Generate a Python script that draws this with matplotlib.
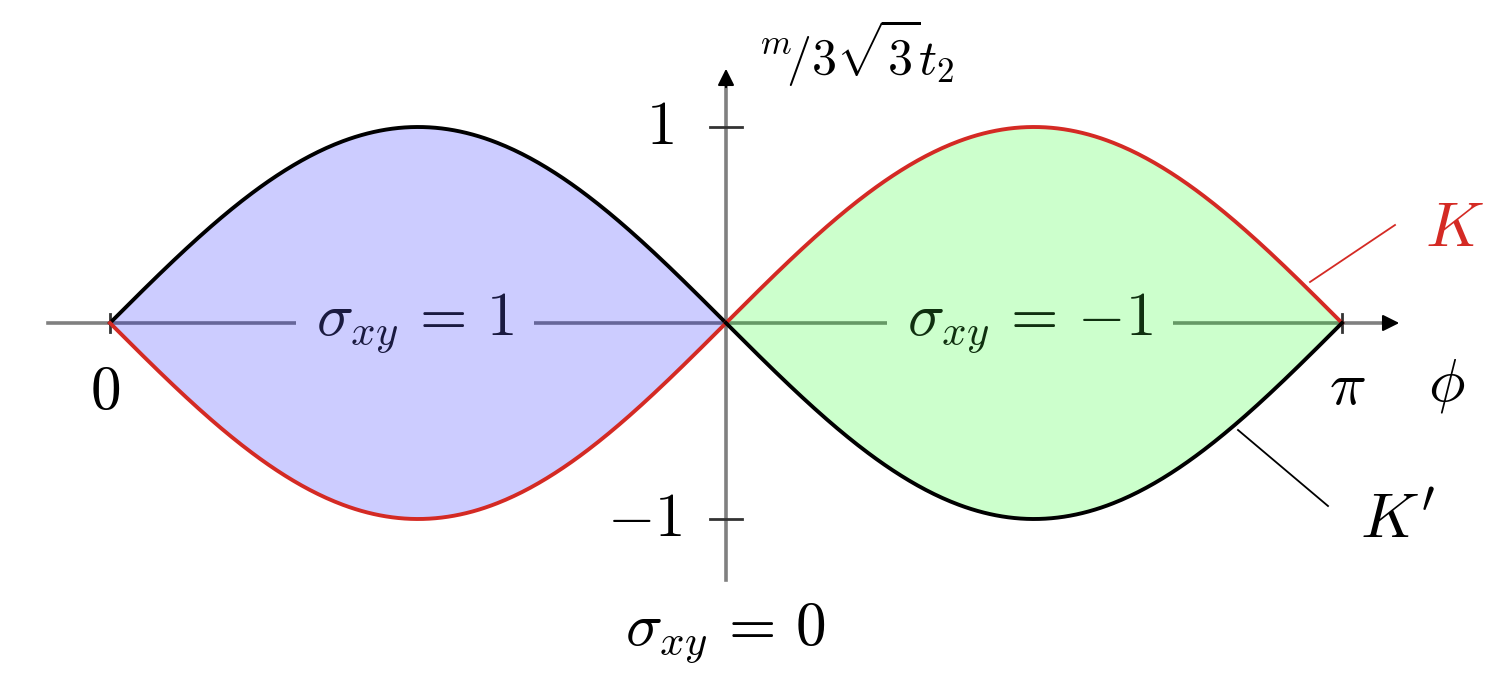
import numpy as np
import matplotlib
matplotlib.use("Agg")
import matplotlib.pyplot as plt

plt.rcParams['mathtext.fontset'] = 'cm'
plt.rcParams['font.family'] = ['DejaVu Serif']

# phase boundaries m/(3*sqrt(3)*t2) = +-sin(2*phi) on each half of [0, pi]
phi_lo, phi_mid, phi_hi = 0.0, np.pi / 2, np.pi
m_peak = 1.0
y_ticks = [1, -1]
y_tick_labels = ['$1$', '$-1$']
x_ticks = [phi_lo, phi_hi]
x_tick_labels = ['$0$', r'$\pi$']
phase_labels = [r'$\sigma_{xy}\,=\,1$', r'$\sigma_{xy}\,=\,{-1}$', r'$\sigma_{xy}\,=\,0$']

RED = '#d42a24'
BLUE_FILL = (0.0, 0.0, 1.0, 0.2)
GREEN_FILL = (0.0, 1.0, 0.0, 0.2)

fig = plt.figure(figsize=(15.12, 6.75), dpi=100)
ax = fig.add_axes([0, 0, 1, 1])
ax.set_axis_off()

# pixel -> data mapping: phi 0 at x=110px, pi at 1342px; m=0 at y=323px, 196px per unit
px_per_x = (1342 - 110) / np.pi
px_per_y = 196.0
ax.set_xlim(-110 / px_per_x, (1512 - 110) / px_per_x)
ax.set_ylim((323 - 675) / px_per_y, 323 / px_per_y)

def X(px):
    return (px - 110) / px_per_x

def Y(py):
    return (323 - py) / px_per_y

# axes with arrows
ax.plot([X(48), X(1385)], [0, 0], color='#808080', lw=2.6, zorder=1)
ax.annotate('', xy=(X(1402), 0), xytext=(X(1380), 0),
            arrowprops=dict(arrowstyle='-|>', color='black', lw=1.5, mutation_scale=25), zorder=1)
ax.plot([phi_mid, phi_mid], [Y(580), Y(85)], color='#808080', lw=2.6, zorder=1)
ax.annotate('', xy=(phi_mid, Y(66)), xytext=(phi_mid, Y(90)),
            arrowprops=dict(arrowstyle='-|>', color='black', lw=1.5, mutation_scale=25), zorder=1)

# ticks
for yt in y_ticks:
    ax.plot([phi_mid - 16 / px_per_x, phi_mid + 16 / px_per_x], [yt, yt], color='#333333', lw=2, zorder=1)
for xt in x_ticks:
    ax.plot([xt, xt], [-9 / px_per_y, 9 / px_per_y], color='#333333', lw=2, zorder=1)

# lobes
p1 = np.linspace(phi_lo, phi_mid, 300)
p2 = np.linspace(phi_mid, phi_hi, 300)
s1 = m_peak * np.sin(2 * p1)
s2 = -m_peak * np.sin(2 * p2)

ax.fill_between(p1, -s1, s1, color=BLUE_FILL, lw=0, zorder=2)
ax.fill_between(p2, -s2, s2, color=GREEN_FILL, lw=0, zorder=2)
ax.plot(p1, s1, color='black', lw=2.8, zorder=3)
ax.plot(p1, -s1, color=RED, lw=2.8, zorder=3)
ax.plot(p2, s2, color=RED, lw=2.8, zorder=3)
ax.plot(p2, -s2, color='black', lw=2.8, zorder=3)

# phase labels
fs = 44
ax.text(X(415), 0, phase_labels[0], fontsize=fs, ha='center', va='center', color='#1a1a40',
        bbox=dict(facecolor='#ccccff', edgecolor='none', pad=14), zorder=4)
ax.text(X(1030), 0, phase_labels[1], fontsize=fs, ha='center', va='center', color='#103010',
        bbox=dict(facecolor='#ccffcc', edgecolor='none', pad=14), zorder=4)
ax.text(phi_mid, Y(633), phase_labels[2], fontsize=fs, ha='center', va='center', color='black')

# tick labels
ax.text(x_ticks[0] - 5 / px_per_x, Y(392), x_tick_labels[0], fontsize=fs, ha='center', va='center')
ax.text(x_ticks[1] + 5 / px_per_x, Y(388), x_tick_labels[1], fontsize=fs, ha='center', va='center')
ax.text(X(1447), Y(385), r'$\phi$', fontsize=fs, ha='center', va='center')
ax.text(X(660), y_ticks[0], y_tick_labels[0], fontsize=fs, ha='center', va='center')
ax.text(X(645), y_ticks[1], y_tick_labels[1], fontsize=fs, ha='center', va='center')
ax.text(X(758), Y(52), r'$^{m}\!/3\sqrt{3}t_2$', fontsize=36, ha='left', va='center')

# valley labels
ax.plot([X(1310), X(1395)], [Y(282), Y(225)], color=RED, lw=1.3, zorder=3)
ax.text(X(1425), Y(228), '$K$', fontsize=fs + 2, ha='left', va='center', color=RED)
ax.plot([X(1238), X(1328)], [Y(430), Y(506)], color='black', lw=1.3, zorder=3)
ax.text(X(1360), Y(520), "$K'$", fontsize=fs + 2, ha='left', va='center', color='black')

fig.savefig('out.png', dpi=100)
